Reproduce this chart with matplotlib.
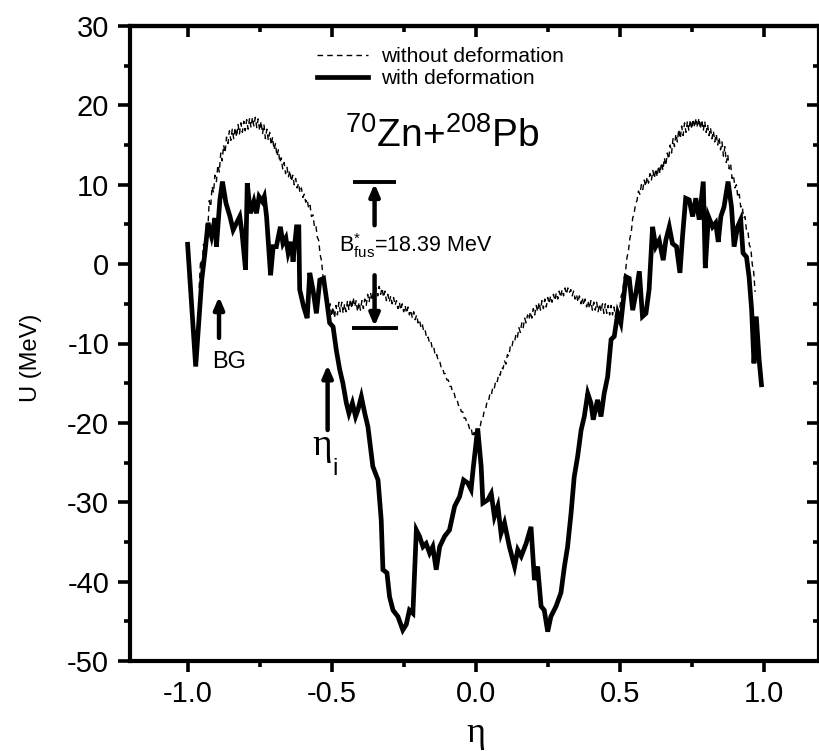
import matplotlib
matplotlib.use("Agg")
import matplotlib.pyplot as plt
from matplotlib.ticker import MultipleLocator

plt.rcParams['font.family'] = ['Liberation Sans', 'DejaVu Sans']
plt.rcParams['axes.unicode_minus'] = False
plt.rcParams['mathtext.fontset'] = 'custom'
plt.rcParams['mathtext.rm'] = 'Liberation Sans'
plt.rcParams['mathtext.it'] = 'Liberation Sans:italic'
plt.rcParams['mathtext.bf'] = 'Liberation Sans:bold'

# Potential energy without deformation (dashed curve)
eta_nodef = [
    -0.960, -0.955, -0.950, -0.945, -0.940, -0.935, -0.930, -0.925, -0.920, -0.915,
    -0.910, -0.905, -0.900, -0.895, -0.890, -0.885, -0.880, -0.875, -0.870, -0.865,
    -0.860, -0.855, -0.850, -0.845, -0.840, -0.835, -0.830, -0.825, -0.820, -0.815,
    -0.810, -0.805, -0.800, -0.795, -0.790, -0.785, -0.780, -0.775, -0.770, -0.765,
    -0.760, -0.755, -0.750, -0.745, -0.740, -0.735, -0.730, -0.725, -0.720, -0.715,
    -0.710, -0.705, -0.700, -0.695, -0.690, -0.685, -0.680, -0.675, -0.670, -0.665,
    -0.660, -0.655, -0.650, -0.645, -0.640, -0.635, -0.630, -0.625, -0.620, -0.615,
    -0.610, -0.605, -0.600, -0.595, -0.590, -0.585, -0.580, -0.575, -0.570, -0.565,
    -0.560, -0.555, -0.550, -0.545, -0.540, -0.535, -0.530, -0.525, -0.520, -0.515,
    -0.510, -0.505, -0.500, -0.495, -0.490, -0.485, -0.480, -0.475, -0.470, -0.465,
    -0.460, -0.455, -0.450, -0.445, -0.440, -0.435, -0.430, -0.425, -0.420, -0.415,
    -0.410, -0.405, -0.400, -0.395, -0.390, -0.385, -0.380, -0.375, -0.370, -0.365,
    -0.360, -0.355, -0.350, -0.345, -0.340, -0.335, -0.330, -0.325, -0.320, -0.315,
    -0.310, -0.305, -0.300, -0.295, -0.290, -0.285, -0.280, -0.275, -0.270, -0.265,
    -0.260, -0.255, -0.250, -0.245, -0.240, -0.235, -0.230, -0.225, -0.220, -0.215,
    -0.210, -0.205, -0.200, -0.195, -0.190, -0.185, -0.180, -0.175, -0.170, -0.165,
    -0.160, -0.155, -0.150, -0.145, -0.140, -0.135, -0.130, -0.125, -0.120, -0.115,
    -0.110, -0.105, -0.100, -0.095, -0.090, -0.085, -0.080, -0.075, -0.070, -0.065,
    -0.060, -0.055, -0.050, -0.045, -0.040, -0.035, -0.030, -0.025, -0.020, -0.015,
    -0.010, -0.005, 0.000,
    0.005, 0.010, 0.015, 0.020, 0.025, 0.030, 0.035, 0.040, 0.045, 0.050,
    0.055, 0.060, 0.065, 0.070, 0.075, 0.080, 0.085, 0.090, 0.095, 0.100,
    0.105, 0.110, 0.115, 0.120, 0.125, 0.130, 0.135, 0.140, 0.145, 0.150,
    0.155, 0.160, 0.165, 0.170, 0.175, 0.180, 0.185, 0.190, 0.195, 0.200,
    0.205, 0.210, 0.215, 0.220, 0.225, 0.230, 0.235, 0.240, 0.245, 0.250,
    0.255, 0.260, 0.265, 0.270, 0.275, 0.280, 0.285, 0.290, 0.295, 0.300,
    0.305, 0.310, 0.315, 0.320, 0.325, 0.330, 0.335, 0.340, 0.345, 0.350,
    0.355, 0.360, 0.365, 0.370, 0.375, 0.380, 0.385, 0.390, 0.395, 0.400,
    0.405, 0.410, 0.415, 0.420, 0.425, 0.430, 0.435, 0.440, 0.445, 0.450,
    0.455, 0.460, 0.465, 0.470, 0.475, 0.480, 0.485, 0.490, 0.495, 0.500,
    0.505, 0.510, 0.515, 0.520, 0.525, 0.530, 0.535, 0.540, 0.545, 0.550,
    0.555, 0.560, 0.565, 0.570, 0.575, 0.580, 0.585, 0.590, 0.595, 0.600,
    0.605, 0.610, 0.615, 0.620, 0.625, 0.630, 0.635, 0.640, 0.645, 0.650,
    0.655, 0.660, 0.665, 0.670, 0.675, 0.680, 0.685, 0.690, 0.695, 0.700,
    0.705, 0.710, 0.715, 0.720, 0.725, 0.730, 0.735, 0.740, 0.745, 0.750,
    0.755, 0.760, 0.765, 0.770, 0.775, 0.780, 0.785, 0.790, 0.795, 0.800,
    0.805, 0.810, 0.815, 0.820, 0.825, 0.830, 0.835, 0.840, 0.845, 0.850,
    0.855, 0.860, 0.865, 0.870, 0.875, 0.880, 0.885, 0.890, 0.895, 0.900,
    0.905, 0.910, 0.915, 0.920, 0.925, 0.930, 0.935, 0.940, 0.945, 0.950,
    0.955, 0.960, 0.965, 0.970,
]
u_nodef = [
    -3.0, 0.5, -0.5, 2.5, 1.8, 5.0, 4.2, 8.0, 7.2, 9.8,
    9.0, 11.2, 10.4, 12.5, 11.6, 14.0, 13.0, 15.0, 14.0, 16.0,
    15.2, 16.8, 15.6, 17.0, 15.8, 17.2, 16.0, 17.6, 16.4, 17.8,
    16.6, 18.0, 16.8, 18.2, 17.0, 18.4, 17.2, 18.5, 17.4, 18.5,
    17.2, 18.3, 16.8, 18.0, 16.4, 17.6, 15.8, 17.0, 15.6, 16.6,
    15.0, 16.0, 14.4, 15.2, 13.6, 14.4, 12.8, 13.4, 12.0, 12.8,
    11.4, 12.2, 11.0, 11.8, 10.4, 11.2, 10.0, 10.8, 9.6, 10.2,
    9.0, 9.6, 8.4, 8.8, 7.8, 8.2, 7.0, 7.4, 6.0, 6.2,
    4.8, 5.0, 3.4, 3.0, 1.2, 0.4, -1.6, -2.8, -4.0, -4.6,
    -5.8, -5.0, -6.6, -5.4, -6.8, -5.2, -6.4, -4.8, -6.0, -4.8,
    -6.2, -5.0, -6.0, -4.6, -5.8, -4.4, -5.6, -4.2, -5.4, -4.6,
    -6.0, -4.8, -5.8, -4.6, -5.6, -4.4, -5.2, -3.8, -4.8, -3.6,
    -4.6, -3.4, -4.2, -3.0, -4.0, -2.8, -3.8, -3.0, -4.2, -3.4,
    -4.6, -3.8, -4.8, -4.0, -5.0, -4.2, -5.2, -4.6, -5.6, -4.8,
    -5.8, -5.0, -6.0, -5.2, -6.2, -5.4, -6.4, -5.8, -6.8, -6.0,
    -7.0, -6.4, -7.4, -7.0, -8.0, -7.6, -8.6, -8.4, -9.4, -9.2,
    -10.0, -9.8, -10.8, -10.6, -11.6, -11.4, -12.2, -12.2, -13.0, -13.0,
    -13.8, -13.8, -14.6, -14.6, -15.4, -15.4, -16.2, -16.2, -17.0, -17.0,
    -17.8, -17.8, -18.6, -18.6, -19.4, -19.4, -20.2, -20.2, -21.0, -20.8,
    -21.8, -21.2, -22.4,
    -21.6, -21.0, -20.6, -19.6, -19.4, -18.4, -18.2, -17.2, -17.2, -16.2,
    -16.4, -15.4, -15.6, -14.6, -14.8, -13.8, -14.0, -13.0, -13.2, -12.2,
    -12.6, -11.4, -11.6, -10.4, -10.6, -9.6, -9.8, -8.8, -9.2, -8.0,
    -8.6, -7.4, -8.0, -6.8, -7.4, -6.4, -7.0, -6.0, -6.8, -5.6,
    -6.4, -5.2, -6.0, -4.8, -5.8, -4.6, -5.6, -4.4, -5.4, -4.2,
    -5.0, -4.0, -4.8, -3.8, -4.6, -3.6, -4.4, -3.4, -4.2, -3.2,
    -4.0, -3.0, -3.8, -3.0, -3.6, -3.2, -4.0, -3.4, -4.4, -3.8,
    -4.8, -4.0, -5.0, -4.2, -5.2, -4.4, -5.4, -4.6, -5.6, -4.6,
    -5.8, -4.8, -5.8, -4.8, -6.0, -5.0, -6.0, -5.0, -6.2, -5.0,
    -6.2, -5.2, -6.4, -5.2, -6.4, -5.4, -6.6, -5.6, -6.8, -5.6,
    -4.0, -3.6, -1.8, -1.0, 0.8, 1.6, 3.2, 4.0, 5.8, 6.4,
    7.6, 8.0, 9.2, 8.8, 10.0, 9.4, 10.6, 9.8, 11.0, 10.2,
    11.4, 10.6, 11.8, 10.8, 12.0, 11.0, 12.4, 11.4, 12.8, 11.8,
    13.4, 12.4, 14.0, 13.2, 15.0, 14.0, 15.8, 14.8, 16.4, 15.4,
    17.0, 15.8, 17.4, 16.2, 17.8, 16.6, 18.0, 16.8, 18.2, 17.0,
    18.3, 17.2, 18.4, 17.2, 18.4, 17.0, 18.2, 16.8, 18.0, 16.6,
    17.6, 16.2, 17.2, 15.8, 16.8, 15.4, 16.4, 15.0, 16.0, 14.4,
    15.4, 13.6, 14.8, 12.8, 13.8, 12.0, 12.6, 10.8, 11.2, 9.6,
    10.0, 8.4, 8.8, 7.2, 7.4, 5.8, 6.0, 4.2, 4.2, 2.4,
    2.0, 0.0, -1.0, -3.5,
]

# Potential energy with deformation (solid curve)
eta_def = [
    -1.000, -0.972, -0.951, -0.940, -0.929, -0.917, -0.905, -0.900, -0.888, -0.879,
    -0.867, -0.853, -0.842, -0.830, -0.819, -0.811, -0.799, -0.793, -0.782, -0.770,
    -0.761, -0.752, -0.741, -0.734, -0.726, -0.712, -0.703, -0.692, -0.678, -0.669,
    -0.659, -0.651, -0.640, -0.634, -0.622, -0.614, -0.611, -0.597, -0.585, -0.576,
    -0.565, -0.553, -0.541, -0.528, -0.516, -0.507, -0.495, -0.484, -0.472, -0.461,
    -0.449, -0.440, -0.428, -0.417, -0.409, -0.397, -0.385, -0.374, -0.357, -0.339,
    -0.328, -0.322, -0.308, -0.299, -0.287, -0.270, -0.253, -0.241, -0.230, -0.218,
    -0.206, -0.195, -0.183, -0.172, -0.160, -0.149, -0.137, -0.125, -0.108, -0.091,
    -0.073, -0.056, -0.042, -0.027, -0.016, -0.008, 0.007, 0.019, 0.025, 0.042,
    0.054, 0.065, 0.077, 0.088, 0.100, 0.117, 0.135, 0.146, 0.158, 0.175,
    0.192, 0.204, 0.215, 0.227, 0.238, 0.250, 0.261, 0.279, 0.296, 0.308,
    0.319, 0.331, 0.342, 0.354, 0.366, 0.377, 0.389, 0.400, 0.408, 0.423,
    0.435, 0.446, 0.458, 0.470, 0.481, 0.493, 0.504, 0.510, 0.522, 0.533,
    0.545, 0.556, 0.568, 0.579, 0.591, 0.602, 0.614, 0.625, 0.637, 0.651,
    0.660, 0.672, 0.683, 0.697, 0.709, 0.718, 0.729, 0.741, 0.753, 0.764,
    0.776, 0.790, 0.797, 0.808, 0.822, 0.833, 0.842, 0.851, 0.862, 0.876,
    0.888, 0.897, 0.909, 0.920, 0.928, 0.940, 0.949, 0.958, 0.966, 0.974,
    0.984, 0.992,
]
u_def = [
    2.5, -12.9, -2.0, 1.4, 5.2, 3.5, 5.8, 2.2, 8.1, 10.4,
    7.7, 6.0, 4.3, 5.2, 6.0, 3.9, -0.7, 10.2, 6.4, 7.9,
    6.4, 8.5, 7.9, 8.5, 6.0, -1.4, 2.2, 2.2, 4.7, 2.6,
    3.3, 1.4, 2.8, 0.3, 4.7, 4.7, -3.2, -5.4, -6.8, -1.1,
    -3.2, -6.2, -2.0, -1.8, -4.9, -7.4, -7.9, -10.8, -13.3, -15.0,
    -17.5, -18.8, -17.5, -19.2, -18.4, -16.7, -18.8, -20.5, -25.5, -27.2,
    -32.2, -38.5, -38.9, -41.9, -43.6, -44.4, -46.1, -45.4, -43.6, -44.0,
    -33.5, -34.3, -35.6, -35.2, -36.4, -35.6, -38.5, -35.6, -34.3, -33.5,
    -30.5, -29.3, -27.2, -27.6, -28.4, -25.5, -20.7, -25.5, -30.1, -29.7,
    -28.9, -31.8, -30.5, -33.9, -32.6, -35.6, -38.1, -36.0, -36.8, -35.2,
    -33.1, -39.8, -38.1, -43.1, -43.6, -46.3, -44.4, -43.1, -41.4, -38.1,
    -35.6, -31.4, -26.8, -24.2, -20.9, -19.2, -16.3, -17.5, -19.6, -17.1,
    -19.2, -16.3, -14.2, -9.5, -9.1, -6.2, -7.4, -5.4, -1.6, -1.8,
    -5.8, -3.7, -0.9, -6.6, -6.2, -3.2, 4.7, 2.2, 3.0, 0.5,
    3.0, 4.7, 2.6, 2.2, -1.1, 3.5, 8.3, 8.1, 6.0, 8.3,
    5.6, 10.4, -0.5, 6.0, 4.7, 5.2, 2.8, 6.0, 7.2, 10.4,
    7.2, 2.2, 4.7, 5.6, 1.4, 0.9, -1.6, -5.8, -12.5, -6.6,
    -12.1, -15.2,
]

# Axis settings
x_limits = (-1.2, 1.19)
y_limits = (-50, 30)
x_major = [-1.0, -0.5, 0.0, 0.5, 1.0]
x_tick_labels = ['-1.0', '-0.5', '0.0', '0.5', '1.0']
y_major = [-50, -40, -30, -20, -10, 0, 10, 20, 30]

# Fusion barrier annotation
b_fus = 18.39
barrier_top = 10.35
barrier_eta = -0.351
bg_eta = -0.891
eta_i = -0.514

fig = plt.figure(figsize=(8.19, 7.51), dpi=100)
ax = fig.add_axes([130 / 819, 90 / 751, 688.5 / 819, 635 / 751])

ax.plot(eta_nodef, u_nodef, color='black', lw=1.0, ls=(0, (4, 3)),
        label='without deformation')
ax.plot(eta_def, u_def, color='black', lw=3.4, solid_joinstyle='miter',
        label='with deformation')

ax.set_xlim(*x_limits)
ax.set_ylim(*y_limits)
ax.set_xticks(x_major)
ax.set_xticklabels(x_tick_labels)
ax.set_yticks(y_major)
ax.xaxis.set_minor_locator(MultipleLocator(0.25))
ax.yaxis.set_minor_locator(MultipleLocator(5))

for s in ax.spines.values():
    s.set_linewidth(3.0)

ax.tick_params(axis='both', which='major', direction='out', width=2.6,
               labelsize=21, pad=6)
ax.tick_params(axis='x', which='major', length=8)
ax.tick_params(axis='y', which='major', length=9)
ax.tick_params(axis='both', which='minor', direction='out', width=2.6, length=4)

# Mirrored inward ticks on the top and right edges
top = ax.secondary_xaxis('top')
top.set_xticks(x_major)
top.xaxis.set_minor_locator(MultipleLocator(0.25))
top.tick_params(which='major', direction='in', length=8, width=2.6, labeltop=False)
top.tick_params(which='minor', direction='in', length=4, width=2.6)
top.spines['top'].set_linewidth(3.0)

right = ax.secondary_yaxis('right')
right.set_yticks(y_major)
right.yaxis.set_minor_locator(MultipleLocator(5))
right.tick_params(which='major', direction='in', length=9, width=2.6, labelright=False)
right.tick_params(which='minor', direction='in', length=4, width=2.6)
right.spines['right'].set_linewidth(1.5)
right.spines['right'].set_color('#888888')

ax.set_ylabel('U (MeV)', fontsize=17)
ax.yaxis.set_label_coords(-0.128, 0.477)
fig.text(476 / 819, 1 - 742 / 751, 'η', family=['Liberation Serif', 'DejaVu Serif'],
         fontsize=26, ha='center', va='baseline')

leg = ax.legend(loc='upper left', bbox_to_anchor=(317 / 819, 1 - 47 / 751),
                bbox_transform=fig.transFigure, frameon=False, fontsize=15,
                handlelength=2.45, handletextpad=0.6, labelspacing=0.15,
                borderpad=0, borderaxespad=0)

fig.text(345 / 819, 1 - 147 / 751, r'$^{70}$Zn+$^{208}$Pb', fontsize=28,
         ha='left', va='baseline')

# Barrier height marker
barrier_bottom = barrier_top - b_fus
ax.plot([barrier_eta - 0.076, barrier_eta + 0.076], [barrier_top, barrier_top],
        color='black', lw=2.8, solid_capstyle='butt')
ax.plot([barrier_eta - 0.08, barrier_eta + 0.08], [barrier_bottom, barrier_bottom],
        color='black', lw=2.8, solid_capstyle='butt')
arrow_kw = dict(arrowstyle='-|>,head_length=0.7,head_width=0.3', color='black',
                lw=3.2, shrinkA=0, shrinkB=0)
ax.annotate('', xy=(barrier_eta, barrier_top - 0.2), xytext=(barrier_eta, 4.9),
            arrowprops=arrow_kw)
ax.annotate('', xy=(barrier_eta, barrier_bottom + 0.2), xytext=(barrier_eta, -1.4),
            arrowprops=arrow_kw)
ax.text(-0.476, 2.3, r'B$^{*}_{\mathrm{fus}}$=%.2f MeV' % b_fus, fontsize=15.5,
        ha='left', va='center')

# BG and eta_i markers
ax.annotate('', xy=(bg_eta, -4.1), xytext=(bg_eta, -9.3), arrowprops=arrow_kw)
ax.text(-0.855, -12.3, 'BG', fontsize=17, ha='center', va='center')
ax.annotate('', xy=(eta_i, -12.7), xytext=(eta_i, -20.9), arrowprops=arrow_kw)
ax.text(-0.534, -24.0, 'η', family=['Liberation Serif', 'DejaVu Serif'],
        fontsize=27, ha='center', va='baseline')
ax.text(-0.488, -26.6, 'i', fontsize=17, ha='center', va='baseline')

fig.savefig('out.png', dpi=100)
